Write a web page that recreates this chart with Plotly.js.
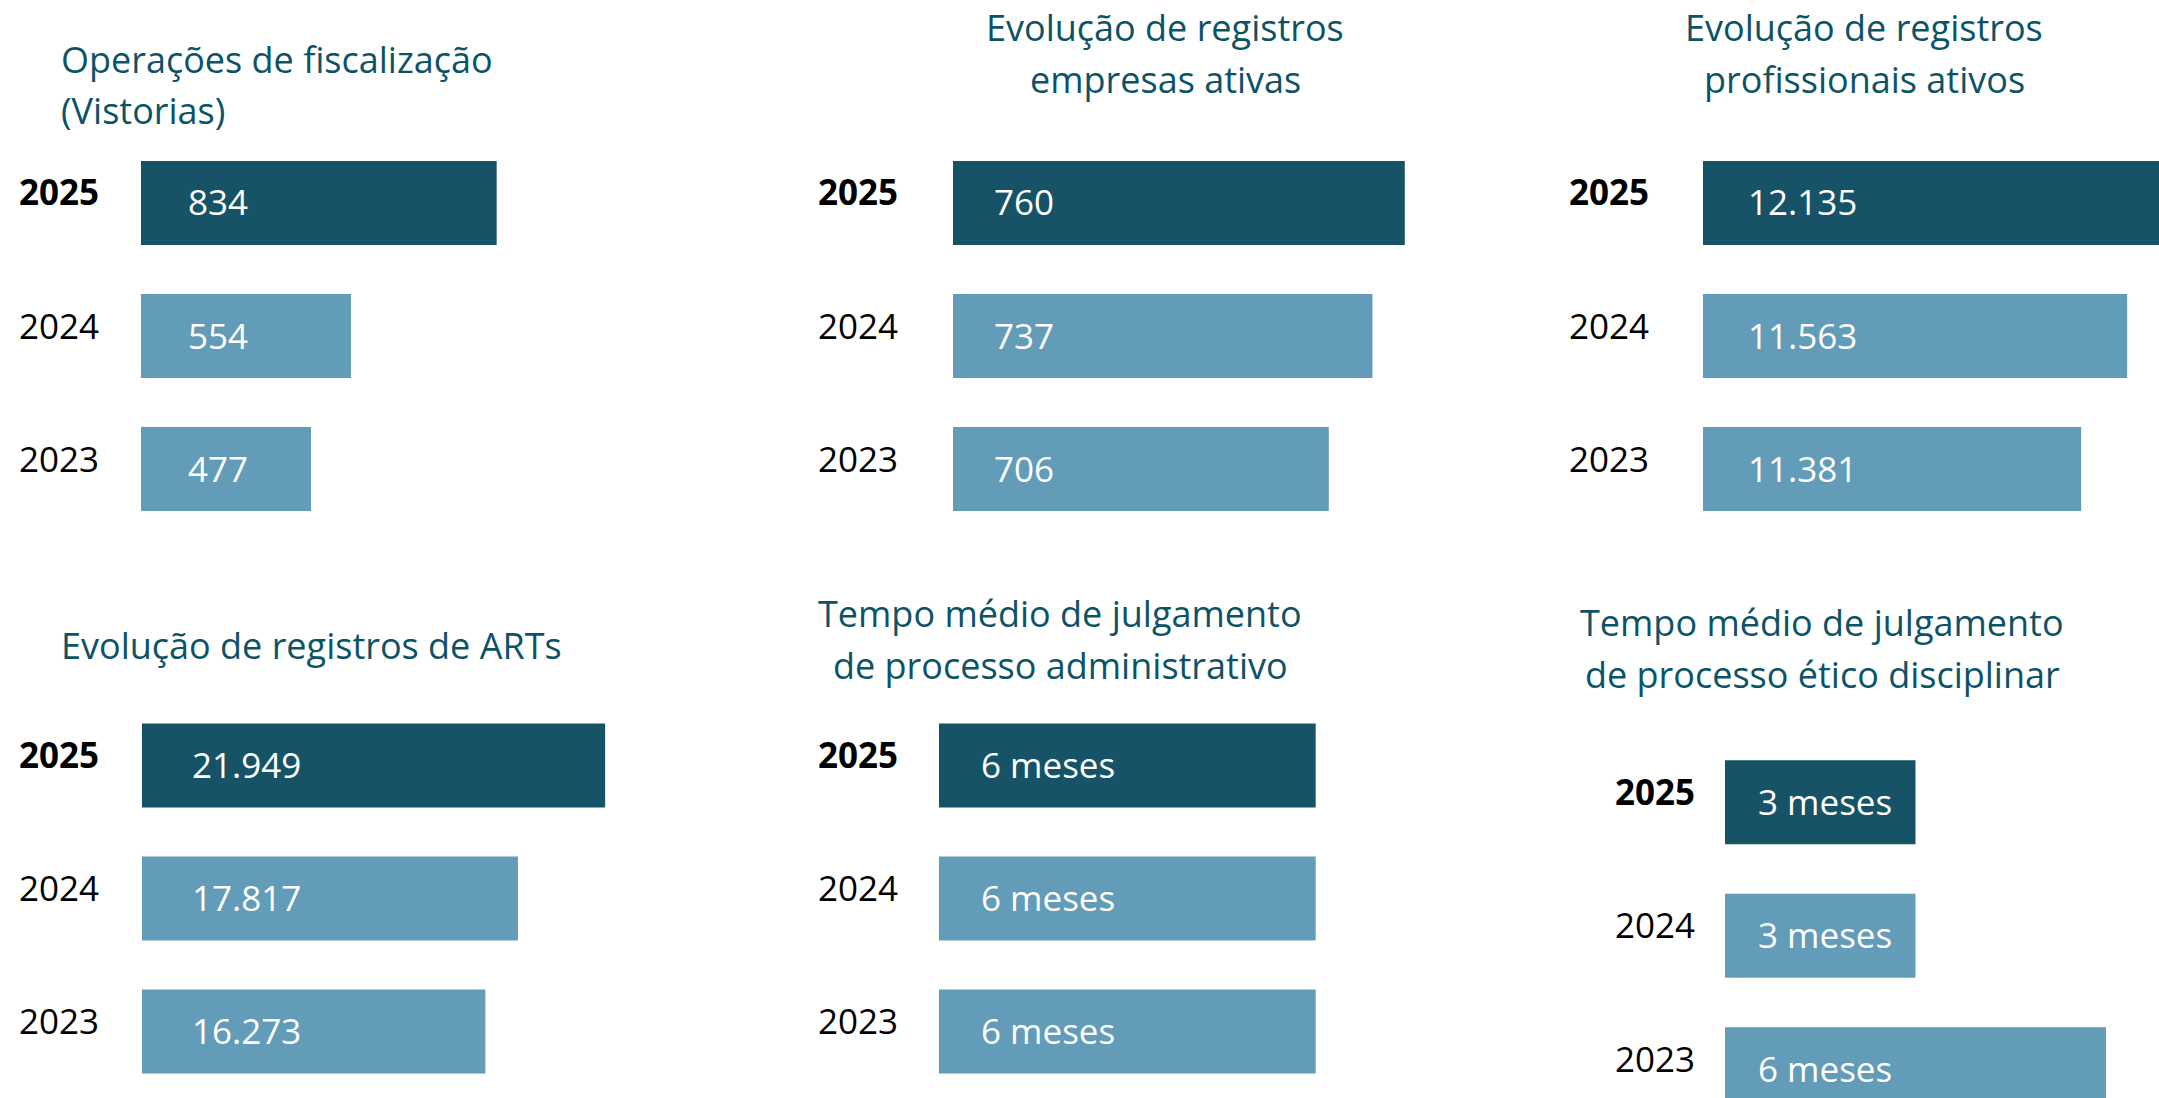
<!DOCTYPE html>
<html>
<head>
<meta charset="utf-8">
<script src="https://cdn.plot.ly/plotly-3.0.1.min.js"></script>
<style>html,body{margin:0;padding:0;background:#fff;}#chart{width:2159px;height:1098px;}</style>
</head>
<body>
<div id="chart"></div>
<script>
// ---- Data ----
const years = ['2023', '2024', '2025'];

const fiscalizacaoTitle = ['Operações de fiscalização', '(Vistorias)'];
const fiscalizacaoValues = [477, 554, 834];
const fiscalizacaoLabels = ['477', '554', '834'];

const empresasTitle = ['Evolução de registros', 'empresas ativas'];
const empresasValues = [706, 737, 760];
const empresasLabels = ['706', '737', '760'];

const profissionaisTitle = ['Evolução de registros', 'profissionais ativos'];
const profissionaisValues = [11381, 11563, 12135];
const profissionaisLabels = ['11.381', '11.563', '12.135'];

const artsTitle = ['Evolução de registros de ARTs'];
const artsValues = [16273, 17817, 21949];
const artsLabels = ['16.273', '17.817', '21.949'];

const adminTitle = ['Tempo médio de julgamento', 'de processo administrativo'];
const adminValues = [6, 6, 6];
const adminLabels = ['6 meses', '6 meses', '6 meses'];

const eticoTitle = ['Tempo médio de julgamento', 'de processo ético disciplinar'];
const eticoValues = [6, 3, 3];
const eticoLabels = ['6 meses', '3 meses', '3 meses'];

// ---- Layout / style ----
const W = 2159, H = 1098;
const DARK = '#165367', LIGHT = '#629cb9', TITLE = '#0d5366';
const FONT = 'Open Sans';
const TITLE_SIZE = 36;

const panels = [
  {title: fiscalizacaoTitle, values: fiscalizacaoValues, labels: fiscalizacaoLabels,
   dom: [141, 700, 136.5, 535.5], yr: [-0.5, 2.5], xr: [150, 1225],
   tAlign: 'left', tx: 59, ty: [60, 110], yearRight: 101, valX: 186},
  {title: empresasTitle, values: empresasValues, labels: empresasLabels,
   dom: [953, 1440, 136.5, 535.5], yr: [-0.5, 2.5], xr: [439, 785],
   tAlign: 'center', tx: 1165, ty: [28, 79], yearRight: 900, valX: 992},
  {title: profissionaisTitle, values: profissionaisValues, labels: profissionaisLabels,
   dom: [1703, 2159, 136.5, 535.5], yr: [-0.5, 2.5], xr: [9885, 11689],
   tAlign: 'center', tx: 1864, ty: [28, 79], yearRight: 1651, valX: 1746},
  {title: artsTitle, values: artsValues, labels: artsLabels,
   dom: [142, 700, 699, 1098], yr: [-0.5, 2.5], xr: [0, 26445],
   tAlign: 'left', tx: 59, ty: [645], yearRight: 101, valX: 190},
  {title: adminTitle, values: adminValues, labels: adminLabels,
   dom: [939, 1440, 699, 1098], yr: [-0.5, 2.5], xr: [0, 7.98],
   tAlign: 'center', tx: 1060, ty: [613, 665], yearRight: 900, valX: 979},
  {title: eticoTitle, values: eticoValues, labels: eticoLabels,
   dom: [1725, 2159, 735.5, 1098], yr: [-0.215, 2.5], xr: [0, 6.835],
   tAlign: 'center', tx: 1822, ty: [622, 674], yearRight: 1697, valX: 1756}
];

const traces = [];
const annotations = [];
const layout = {
  width: W, height: H,
  margin: {l: 0, r: 0, t: 0, b: 0},
  paper_bgcolor: '#ffffff', plot_bgcolor: '#ffffff',
  showlegend: false,
  bargap: 0.37,
  font: {family: FONT, color: '#000'},
  annotations: annotations
};

panels.forEach((p, i) => {
  const n = i === 0 ? '' : String(i + 1);
  const xa = 'x' + n, ya = 'y' + n;
  const [x0, x1, yTop, yBot] = p.dom;
  traces.push({
    type: 'bar', orientation: 'h',
    x: p.values, y: years,
    xaxis: xa, yaxis: ya,
    marker: {color: years.map(y => y === '2025' ? DARK : LIGHT), line: {width: 0}},
    hoverinfo: 'skip'
  });
  layout['xaxis' + n] = {
    domain: [x0 / W, x1 / W], range: p.xr, anchor: ya,
    showticklabels: false, showgrid: false, zeroline: false, showline: false, fixedrange: true
  };
  layout['yaxis' + n] = {
    domain: [1 - yBot / H, 1 - yTop / H], range: p.yr, anchor: xa,
    type: 'category', categoryorder: 'array', categoryarray: years,
    showticklabels: false, showgrid: false, zeroline: false, showline: false, fixedrange: true
  };
  // titles
  p.title.forEach((line, k) => {
    annotations.push({
      xref: 'paper', yref: 'paper',
      x: p.tx / W, y: 1 - p.ty[k] / H,
      xanchor: p.tAlign, yanchor: 'middle',
      text: line, showarrow: false,
      font: {family: FONT, size: TITLE_SIZE, color: TITLE}
    });
  });
  // year labels and value labels (category axes take the category index)
  years.forEach((yr, k) => {
    annotations.push({
      xref: 'paper', yref: ya,
      x: p.yearRight / W, y: k, yshift: 11,
      xanchor: 'right', yanchor: 'middle',
      text: yr === '2025' ? '<b>' + yr + '</b>' : yr,
      showarrow: false,
      font: {family: FONT, size: 35, color: '#000'}
    });
    annotations.push({
      xref: 'paper', yref: ya,
      x: p.valX / W, y: k, yshift: 1,
      xanchor: 'left', yanchor: 'middle',
      text: p.labels[k], showarrow: false,
      font: {family: FONT, size: 35, color: '#ffffff'}
    });
  });
});

Plotly.newPlot('chart', traces, layout, {staticPlot: true, displayModeBar: false});
</script>
</body>
</html>
